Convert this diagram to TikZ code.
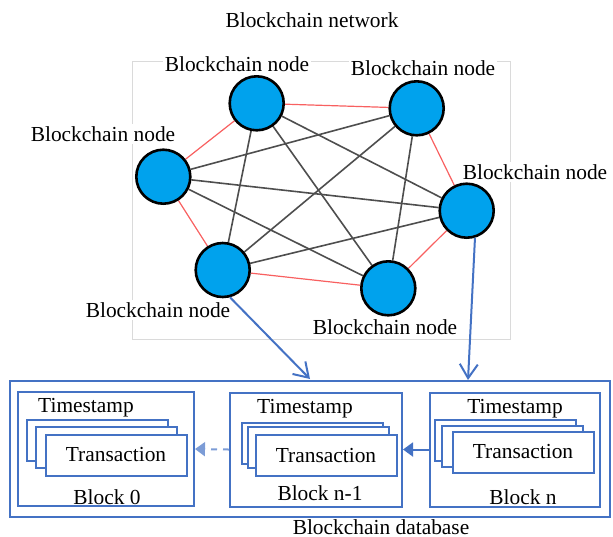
\documentclass[tikz,border=0pt]{standalone}
\usepackage{fontspec}
\setmainfont{Liberation Serif}
\usetikzlibrary{arrows.meta,backgrounds}
\definecolor{nodeblue}{RGB}{0,162,237}
\definecolor{linkred}{RGB}{248,96,96}
\definecolor{linkgray}{RGB}{78,78,78}
\definecolor{dbblue}{RGB}{68,114,196}
\definecolor{framegray}{RGB}{218,218,218}
\begin{document}
\begin{tikzpicture}[x=0.5pt,y=-0.5pt,
  font=\fontsize{10.7pt}{12pt}\selectfont,
  bnode/.style={circle, draw=black, line width=1.3pt, fill=nodeblue, minimum size=27pt, inner sep=0pt},
  lbl/.style={fill=white, inner sep=1pt},
  txt/.style={inner sep=0pt},
  redlink/.style={draw=linkred, line width=0.6pt},
  graylink/.style={draw=linkgray, line width=0.8pt},
  blockbox/.style={draw=dbblue, line width=1pt, fill=white, minimum height=57pt, inner sep=0pt},
  txbox/.style={draw=dbblue, line width=1pt, fill=white, minimum width=70.5pt, minimum height=20.5pt, inner sep=0pt},
  flow/.style={draw=dbblue, line width=1pt, -{Straight Barb[length=7pt,width=9pt]}},
  chain/.style={draw=dbblue, line width=1pt, -{Triangle[length=5pt,width=7pt]}},
  chaindash/.style={draw=dbblue!70, line width=1pt, dashed, -{Triangle[length=5pt,width=7pt]}}
]
\useasboundingbox (0,0) rectangle (613,536);

% title
\node[txt] (ttl) at (312,20) {Blockchain network};

% network nodes
\node[bnode] (tl) at (256.7,103.3) {};
\node[bnode] (tr) at (416.7,108.3) {};
\node[bnode] (lf) at (163.3,176.7) {};
\node[bnode] (rt) at (466.7,210.7) {};
\node[bnode] (bl) at (222.7,270) {};
\node[bnode] (br) at (388.3,288.3) {};

% labels
\node[lbl] (ltl) at (237,64) {Blockchain node};
\node[lbl] (ltr) at (423,68) {Blockchain node};
\node[lbl] (llf) at (103,134) {Blockchain node};
\node[lbl] (lrt) at (535,172) {Blockchain node};
\node[lbl] (lbll) at (158,310) {Blockchain node};
\node[lbl] (lbrr) at (385,327) {Blockchain node};

\begin{pgfonlayer}{background}
  \draw[framegray, line width=0.5pt] (132,61) rectangle (510,339);
  % ring links
  \draw[redlink] (lf) -- (tl);
  \draw[redlink] (tl) -- (tr);
  \draw[redlink] (tr) -- (rt);
  \draw[redlink] (rt) -- (br);
  \draw[redlink] (br) -- (bl);
  \draw[redlink] (bl) -- (lf);
  % cross links
  \draw[graylink] (tl) -- (bl);
  \draw[graylink] (tl) -- (br);
  \draw[graylink] (tl) -- (rt);
  \draw[graylink] (tr) -- (lf);
  \draw[graylink] (tr) -- (bl);
  \draw[graylink] (tr) -- (br);
  \draw[graylink] (lf) -- (rt);
  \draw[graylink] (lf) -- (br);
  \draw[graylink] (rt) -- (bl);
\end{pgfonlayer}

% database
\node[draw=dbblue, line width=0.7pt, minimum width=300pt, minimum height=68pt, inner sep=0pt] (db) at (310,449) {};
\node[txt] (dblab) at (381,527) {Blockchain database};

% blocks
\node[blockbox, minimum width=88pt] (b0) at (106,449) {};
\node[blockbox, minimum width=86pt] (b1) at (316,449.5) {};
\node[blockbox, minimum width=85pt] (b2) at (515,449.5) {};

\node[txt] (ts0) at (86,408) {Timestamp};
\node[txt] (ts1) at (305,409) {Timestamp};
\node[txt] (ts2) at (515,409) {Timestamp};

% transaction stacks
\node[txbox] (t0a) at (97,440) {};
\node[txbox] (t0b) at (106.5,447) {};
\node[txbox] (t0c) at (116,455) {Transaction};

\node[txbox] (t1a) at (312.5,443) {};
\node[txbox] (t1b) at (318.5,447.5) {};
\node[txbox] (t1c) at (326,455.5) {Transaction};

\node[txbox] (t2a) at (505,440.5) {};
\node[txbox] (t2b) at (512.5,446.5) {};
\node[txbox] (t2c) at (523,452) {Transaction};

\node[txt] (bl0) at (107,497) {Block 0};
\node[txt] (bl1) at (320,493) {Block n-1};
\node[txt] (bl2) at (523,497) {Block n};

% chain arrows
\draw[chain] (b2.west) -- (b1.east);
\draw[chaindash] (b1.west) -- (b0.east);

% flows into database
\coordinate (a1) at (310,379);
\coordinate (a2) at (468,380);
\draw[flow] (bl.-75) -- (a1);
\draw[flow] (rt.-73) -- (a2);
\end{tikzpicture}
\end{document}
